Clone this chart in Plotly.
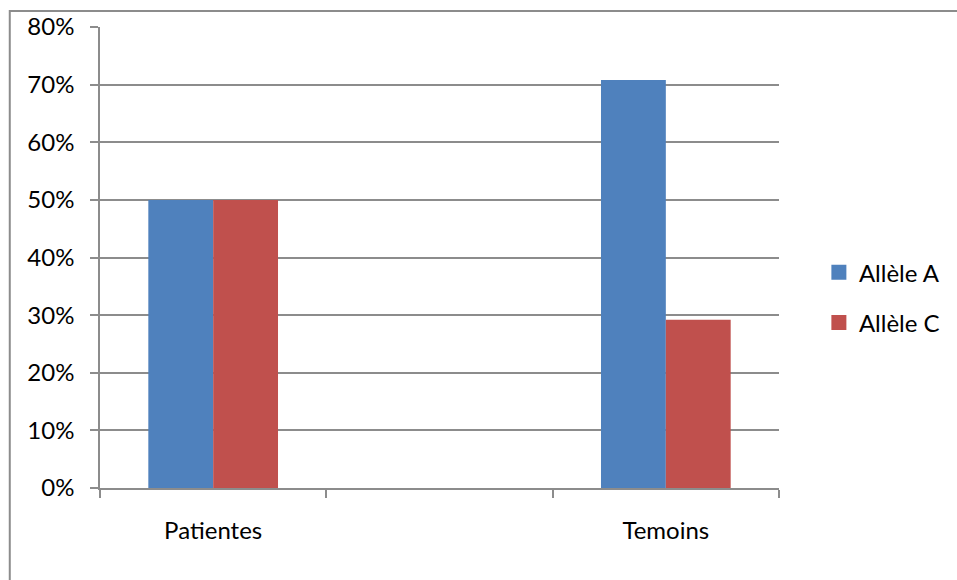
import plotly.graph_objects as go

# Allele frequencies per group (the middle slot is an empty spacer category)
categories = ["Patientes", " ", "Temoins"]
allele_a = [0.50, None, 0.708]
allele_c = [0.50, None, 0.292]
series_names = ["Allèle A", "Allèle C"]
series_colors = ["#4f81bd", "#c0504d"]
y_ticks = [0, 0.1, 0.2, 0.3, 0.4, 0.5, 0.6, 0.7, 0.8]

FONT = dict(family="Lato, 'Open Sans', sans-serif", size=24, color="#000000")
GRID = "#8c8c8c"

fig = go.Figure()
for name, vals, col in zip(series_names, [allele_a, allele_c], series_colors):
    fig.add_trace(go.Bar(name=name, x=categories, y=vals, showlegend=False,
                         marker=dict(color=col, line=dict(width=0))))
# legend entries with larger square swatches
for name, col in zip(series_names, series_colors):
    fig.add_trace(go.Scatter(name=name, x=[None], y=[None], mode="markers",
                             legendgroup=name,
                             marker=dict(symbol="square", size=15, color=col)))

W, H = 957, 580
L, R, T, B = 100, 176, 27, 91.5
pw, ph = W - L - R, H - T - B

def px_x(px):
    return (px - L) / pw

def px_y(py):
    return (H - B - py) / ph

fig.update_layout(
    width=W, height=H,
    margin=dict(l=L, r=R, t=T, b=B, pad=0),
    paper_bgcolor="white", plot_bgcolor="white",
    font=FONT,
    barmode="group", bargap=0.427, bargroupgap=0,
    showlegend=True,
    legend=dict(x=px_x(821), y=px_y(298), xanchor="left", yanchor="middle",
                font=FONT, bgcolor="rgba(0,0,0,0)", itemsizing="trace",
                tracegroupgap=16, traceorder="grouped"),
    xaxis=dict(type="category", tickson="boundaries", ticks="outside",
               ticklen=8, tickcolor=GRID, tickwidth=1.5,
               showline=True, linecolor=GRID, linewidth=1.5,
               showgrid=False, tickfont=FONT, ticklabelstandoff=20,
               fixedrange=True),
    yaxis=dict(range=[0, 0.8], tickvals=y_ticks, tickformat=".0%",
               ticks="outside", ticklen=8, tickcolor=GRID, tickwidth=1.5,
               showline=True, linecolor=GRID, linewidth=1.5,
               showgrid=True, gridcolor=GRID, gridwidth=1.5,
               zeroline=False, tickfont=FONT, ticklabelstandoff=11,
               fixedrange=True),
    shapes=[dict(type="rect", xref="paper", yref="paper",
                 x0=px_x(9.5), x1=px_x(1000), y0=px_y(640), y1=px_y(11),
                 line=dict(color=GRID, width=2), fillcolor="rgba(0,0,0,0)",
                 layer="below")],
)

fig.write_html("out.html")
